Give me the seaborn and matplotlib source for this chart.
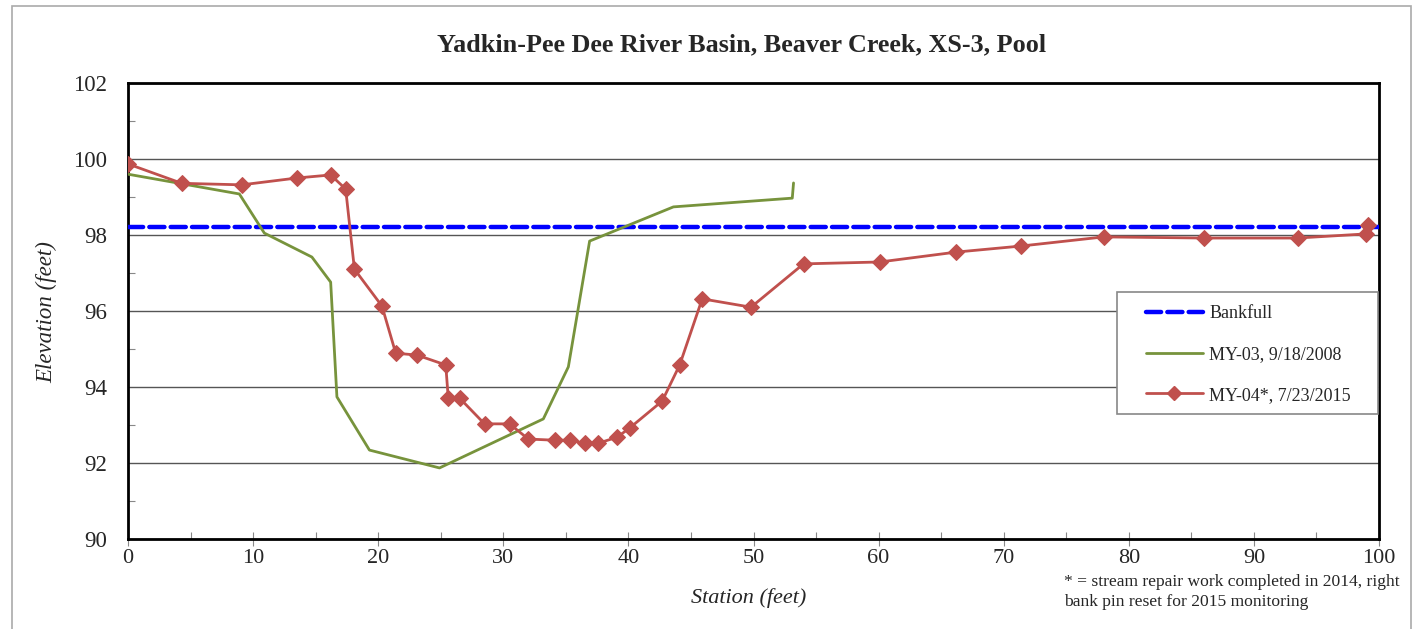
import matplotlib
matplotlib.use("Agg")
import matplotlib.pyplot as plt
import seaborn as sns
import numpy as np
import pandas as pd
from matplotlib.ticker import MultipleLocator
from matplotlib.patches import Rectangle
from matplotlib.lines import Line2D

# ---- data ----
bankfull_x = [0, 100]
bankfull_y = [98.2, 98.2]

my03_x = [0, 8.9, 10.9, 14.7, 16.2, 16.7, 19.3, 24.9, 33.2, 35.2, 36.9, 43.6, 53.1, 53.2]
my03_y = [99.6, 99.08, 98.05, 97.42, 96.76, 93.74, 92.34, 91.87, 93.16, 94.53, 97.84, 98.74, 98.97, 99.37]

my04_x = [0, 4.3, 9.1, 13.5, 16.2, 17.4, 18.1, 20.3, 21.4, 23.1, 25.4, 25.6, 26.5, 28.5,
          30.5, 32.0, 34.1, 35.3, 36.5, 37.6, 39.1, 40.1, 42.7, 44.1, 45.9, 49.8, 54.0,
          60.1, 66.2, 71.4, 78.0, 86.0, 93.5, 99.0, 99.1]
my04_y = [99.87, 99.36, 99.32, 99.5, 99.58, 99.21, 97.1, 96.13, 94.89, 94.84, 94.58, 93.71,
          93.71, 93.03, 93.03, 92.63, 92.6, 92.6, 92.52, 92.52, 92.68, 92.92, 93.63, 94.58,
          96.32, 96.1, 97.24, 97.29, 97.55, 97.71, 97.95, 97.92, 97.92, 98.03, 98.26]

title = "Yadkin-Pee Dee River Basin, Beaver Creek, XS-3, Pool"
xlabel = "Station (feet)"
ylabel = "Elevation (feet)"
labels = ["Bankfull", "MY-03, 9/18/2008", "MY-04*, 7/23/2015"]
note = "* = stream repair work completed in 2014, right\nbank pin reset for 2015 monitoring"

# ---- style ----
sns.set_style("white")
plt.rcParams['font.family'] = ['Liberation Serif', 'DejaVu Serif']

W, H = 1414, 629
fig = plt.figure(figsize=(W / 100, H / 100), dpi=100)
AX_L, AX_R, AX_T, AX_B = 128, 1379, 83, 539
ax = fig.add_axes([AX_L / W, 1 - AX_B / H, (AX_R - AX_L) / W, (AX_B - AX_T) / H])

def ax_x(px):
    return (px - AX_L) / (AX_R - AX_L)

def ax_y(py):
    return (AX_B - py) / (AX_B - AX_T)

blue = "#0000FF"
green = "#77933C"
red = "#C0504D"

bf = pd.DataFrame({"x": bankfull_x, "y": bankfull_y})
d3 = pd.DataFrame({"x": my03_x, "y": my03_y})
d4 = pd.DataFrame({"x": my04_x, "y": my04_y})

sns.lineplot(data=bf, x="x", y="y", ax=ax, color=blue, lw=3.2, sort=False, zorder=3)
ax.lines[-1].set_dashes((3.4, 1.4))
ax.lines[-1].set_dash_capstyle("round")
sns.lineplot(data=d3, x="x", y="y", ax=ax, color=green, lw=2, sort=False, zorder=4)
sns.lineplot(data=d4, x="x", y="y", ax=ax, color=red, lw=2, sort=False, zorder=5,
             marker="D", markersize=8, markeredgecolor=red, markerfacecolor=red)

ax.set_xlim(0, 100)
ax.set_ylim(90, 102)
ax.xaxis.set_major_locator(MultipleLocator(10))
ax.xaxis.set_minor_locator(MultipleLocator(5))
ax.yaxis.set_major_locator(MultipleLocator(2))
ax.yaxis.set_minor_locator(MultipleLocator(1))

ax.grid(axis="y", which="major", color="#555555", lw=1.0)
ax.set_axisbelow(True)
for s in ax.spines.values():
    s.set_color("black")
    s.set_linewidth(2)
    s.set_visible(True)

ax.tick_params(axis="y", which="major", direction="out", length=6, width=0.8,
               color="#888888", labelsize=16.5, pad=9)
ax.tick_params(axis="y", which="minor", direction="in", length=5, width=0.8,
               color="#888888", left=True)
ax.tick_params(axis="x", which="major", direction="inout", length=10, width=0.8,
               color="#888888", labelsize=16, pad=2, bottom=True)
ax.tick_params(axis="x", which="minor", direction="in", length=5, width=0.8,
               color="#888888", bottom=True)

ax.set_xlabel("")
ax.set_ylabel("")
fig.text(749 / W, 1 - 598 / H, xlabel, fontsize=16, style="italic",
         ha="center", va="center")
fig.text(47 / W, 1 - 312 / H, ylabel, fontsize=16.5, style="italic",
         ha="center", va="center", rotation=90)
fig.text(742 / W, 1 - 45 / H, title, fontsize=18.8, fontweight="bold",
         ha="center", va="center")
fig.text(1064 / W, 1 - 574 / H, note, fontsize=12.6, ha="left", va="top",
         linespacing=1.3)

# legend frame drawn as a patch, legend entries without frame
frame = Rectangle((ax_x(1117), ax_y(414)), ax_x(1378) - ax_x(1117), ax_y(292) - ax_y(414),
                  transform=ax.transAxes, facecolor="white", edgecolor="#888888",
                  lw=1.2, zorder=9, clip_on=False)
ax.add_patch(frame)

handles = [
    Line2D([], [], color=blue, lw=3.2, dashes=(3.4, 1.4), dash_capstyle="round"),
    Line2D([], [], color=green, lw=2),
    Line2D([], [], color=red, lw=2, marker="D", markersize=7),
]
leg = ax.legend(handles, labels, loc="upper left",
                bbox_to_anchor=(ax_x(1146), ax_y(305)),
                fontsize=13, frameon=False, handlelength=3.15,
                labelspacing=1.32, borderpad=0, handletextpad=0.35,
                borderaxespad=0)
leg.set_zorder(10)

# outer chart border (light gray)
fig.patches.append(Rectangle((12 / W, -0.05), (1411 - 12) / W, 1 - 6 / H + 0.05,
                             transform=fig.transFigure, fill=False,
                             edgecolor="#AAAAAA", lw=1.2))

fig.savefig("out.png", dpi=100)
